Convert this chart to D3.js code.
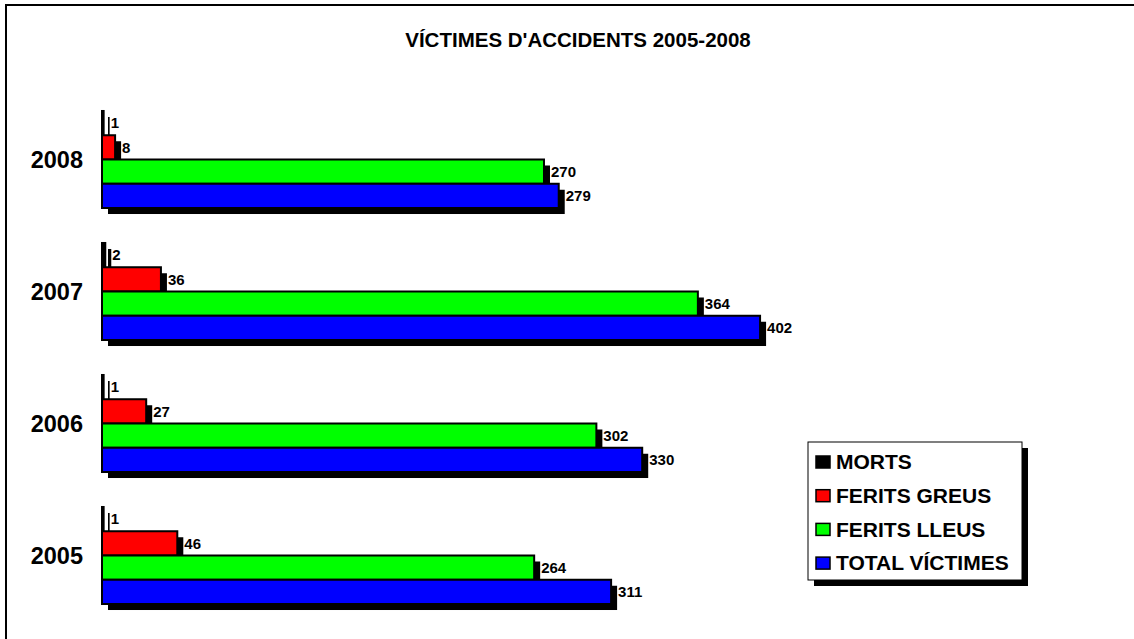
<!DOCTYPE html>
<html>
<head>
<meta charset="utf-8">
<script src="https://cdn.jsdelivr.net/npm/d3@7"></script>
<style>
  body { margin: 0; background: #fff; }
  svg { display: block; font-family: Arial, 'Liberation Sans', sans-serif; }
</style>
</head>
<body>
<div id="chart"></div>
<script>
// Chart data
let years = ['2008', '2007', '2006', '2005'];
let seriesNames = ['MORTS', 'FERITS GREUS', 'FERITS LLEUS', 'TOTAL VÍCTIMES'];
let morts = [1, 2, 1, 1];
let feritsGreus = [8, 36, 27, 46];
let feritsLleus = [270, 364, 302, 264];
let totalVictimes = [279, 402, 330, 311];
let seriesColor = ['#000000', '#ff0000', '#00ff00', '#0000ff'];

let width = 1134;
let height = 639;
let shadow = 6;

let svg = d3.select('#chart')
    .append('svg')
    .attr('width', width)
    .attr('height', height);

// Outer frame (only top and left edges are visible)
svg.append('path')
    .attr('d', 'M6,' + height + ' L6,5 L' + width + ',5')
    .attr('fill', 'none')
    .attr('stroke', '#000')
    .attr('stroke-width', 2);

// Title
svg.append('text')
    .attr('x', 578)
    .attr('y', 47)
    .attr('text-anchor', 'middle')
    .attr('font-size', '20.5px')
    .attr('font-weight', 'bold')
    .text("VÍCTIMES D'ACCIDENTS 2005-2008");

// Scales
let x = d3.scaleLinear()
    .domain([0, 450])
    .range([102, 102 + 450 * 1.637]);

let y = d3.scaleBand()
    .domain(years)
    .range([93.5, 621.5])
    .paddingInner(0.265)
    .paddingOuter(0.1325);

let ySeries = d3.scaleBand()
    .domain(d3.range(seriesNames.length))
    .range([0, y.bandwidth()]);

// Build row table from arrays
let allSeries = [morts, feritsGreus, feritsLleus, totalVictimes];
let rows = [];
years.forEach(function(year, i) {
    allSeries.forEach(function(values, s) {
        rows.push({ year: year, series: s, value: values[i] });
    });
});

let plot = svg.append('g');

// Shadows first
plot.selectAll('.bar-shadow')
    .data(rows)
    .enter()
    .append('rect')
    .attr('class', 'bar-shadow')
    .attr('x', x(0) + shadow)
    .attr('y', function(d) { return y(d.year) + ySeries(d.series) + shadow; })
    .attr('width', function(d) { return x(d.value) - x(0); })
    .attr('height', ySeries.bandwidth())
    .attr('fill', '#000');

// Bars
plot.selectAll('.bar')
    .data(rows)
    .enter()
    .append('rect')
    .attr('class', 'bar')
    .attr('x', x(0))
    .attr('y', function(d) { return y(d.year) + ySeries(d.series); })
    .attr('width', function(d) { return x(d.value) - x(0); })
    .attr('height', ySeries.bandwidth())
    .attr('fill', function(d) { return seriesColor[d.series]; })
    .attr('stroke', '#000')
    .attr('stroke-width', 2);

// Value labels
plot.selectAll('.value-label')
    .data(rows)
    .enter()
    .append('text')
    .attr('class', 'value-label')
    .attr('x', function(d) { return x(d.value) + shadow + 1; })
    .attr('y', function(d) { return y(d.year) + ySeries(d.series) + ySeries.bandwidth() / 2; })
    .attr('dy', '0.35em')
    .attr('font-size', '15px')
    .attr('font-weight', 'bold')
    .text(function(d) { return d.value; });

// Year labels
svg.selectAll('.year-label')
    .data(years)
    .enter()
    .append('text')
    .attr('class', 'year-label')
    .attr('x', 83)
    .attr('y', function(d) { return y(d) + y.bandwidth() / 2; })
    .attr('dy', '0.35em')
    .attr('text-anchor', 'end')
    .attr('font-size', '23.5px')
    .attr('font-weight', 'bold')
    .text(function(d) { return d; });

// Legend
let legend = svg.append('g').attr('transform', 'translate(808,442)');
let legendW = 214;
let legendH = 138;

legend.append('rect')
    .attr('x', shadow)
    .attr('y', shadow)
    .attr('width', legendW)
    .attr('height', legendH)
    .attr('fill', '#000');

legend.append('rect')
    .attr('width', legendW)
    .attr('height', legendH)
    .attr('fill', '#fff')
    .attr('stroke', '#000')
    .attr('stroke-width', 1);

let legendItem = legend.selectAll('.legend-item')
    .data(seriesNames)
    .enter()
    .append('g')
    .attr('class', 'legend-item')
    .attr('transform', function(d, i) { return 'translate(8,' + (20 + i * 33.7) + ')'; });

legendItem.append('rect')
    .attr('x', 0)
    .attr('y', -6)
    .attr('width', 14)
    .attr('height', 12)
    .attr('fill', function(d, i) { return seriesColor[i]; })
    .attr('stroke', '#000')
    .attr('stroke-width', 1.5);

legendItem.append('text')
    .attr('x', 20)
    .attr('y', 0)
    .attr('dy', '0.35em')
    .attr('font-size', '21px')
    .attr('font-weight', 'bold')
    .text(function(d) { return d; });
</script>
</body>
</html>
